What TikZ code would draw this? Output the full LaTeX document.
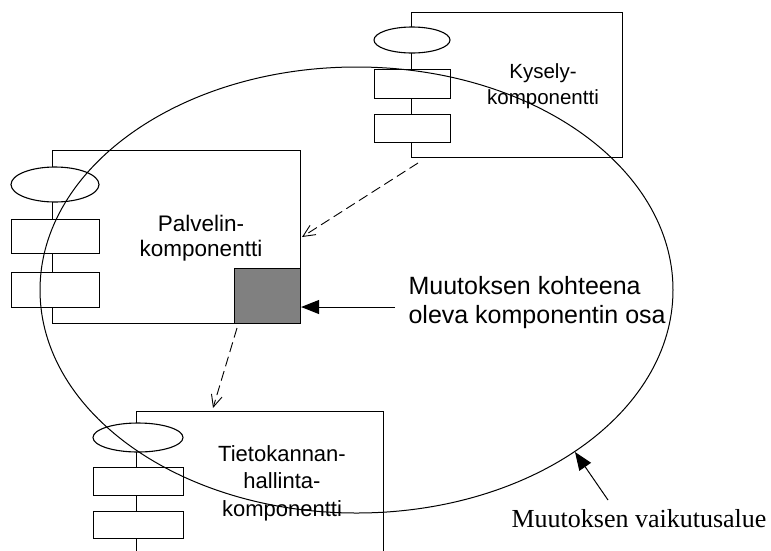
\documentclass[tikz,border=0pt]{standalone}
\usepackage{fontspec}
\setmainfont{Liberation Serif}
\setsansfont{Liberation Sans}
\usetikzlibrary{arrows.meta,shapes.geometric}
\begin{document}
\begin{tikzpicture}[x=1pt,y=-1pt,line width=1.1pt,
  comp/.style={draw=black},
  part/.style={draw=black,fill=white},
  lbl/.style={font=\sffamily\fontsize{21}{26.5}\selectfont,align=center,inner sep=0pt},
  note/.style={font=\sffamily\fontsize{25}{29}\selectfont,align=left,inner sep=0pt,anchor=west},
  depend/.style={draw=black,line width=0.9pt,dash pattern=on 10pt off 5pt,
    -{Straight Barb[length=12pt,width=11pt,line width=0.9pt]}},
  pointer/.style={draw=black,line width=1pt,-{Triangle[length=18pt,width=14pt]}}]
\useasboundingbox (0,0) rectangle (771,550);
\fill[white] (0,0) rectangle (771,550);
\clip (0,0) rectangle (771,550);

% Kysely-komponentti
\node[comp,minimum width=211pt,minimum height=145pt,inner sep=0pt,anchor=north west] (kq) at (411,12) {};
\node[part,ellipse,minimum width=76pt,minimum height=26pt,inner sep=0pt] (kqe) at (412,40) {};
\node[part,minimum width=76pt,minimum height=29pt,inner sep=0pt,anchor=north west] (kqr1) at (374,69) {};
\node[part,minimum width=76pt,minimum height=28pt,inner sep=0pt,anchor=north west] (kqr2) at (374,114) {};
\node[lbl,font=\sffamily\fontsize{20.5}{26}\selectfont] (kqt) at (543,86) {Kysely-\\komponentti};

% Palvelin-komponentti
\node[comp,minimum width=248pt,minimum height=173pt,inner sep=0pt,anchor=north west] (pk) at (52,150) {};
\node[part,ellipse,minimum width=88pt,minimum height=35pt,inner sep=0pt] (pke) at (55,184.5) {};
\node[part,minimum width=88pt,minimum height=34pt,inner sep=0pt,anchor=north west] (pkr1) at (11,219) {};
\node[part,minimum width=88pt,minimum height=35pt,inner sep=0pt,anchor=north west] (pkr2) at (11,272) {};
\node[draw=black,fill=black!50,minimum width=66pt,minimum height=55pt,inner sep=0pt,anchor=north west] (osa) at (234,268) {};
\node[lbl,font=\sffamily\fontsize{22.5}{25.5}\selectfont] (pkt) at (201,238) {Palvelin-\\komponentti};

% Tietokannanhallintakomponentti
\node[comp,minimum width=247pt,minimum height=160pt,inner sep=0pt,anchor=north west] (tk) at (136,411) {};
\node[part,ellipse,minimum width=90pt,minimum height=29pt,inner sep=0pt] (tke) at (138,437.5) {};
\node[part,minimum width=90pt,minimum height=28pt,inner sep=0pt,anchor=north west] (tkr1) at (93,467) {};
\node[part,minimum width=90pt,minimum height=27pt,inner sep=0pt,anchor=north west] (tkr2) at (93,511) {};
\node[lbl,font=\sffamily\fontsize{22}{27.5}\selectfont] (tkt) at (282,483) {Tietokannan-\\hallinta-\\komponentti};

% Muutoksen vaikutusalue
\node[draw=black,ellipse,line width=1pt,minimum width=633pt,minimum height=446pt,inner sep=0pt] (alue) at (356.5,290) {};

% Riippuvuudet
\coordinate (kqlow) at (418,163);
\coordinate (pkin) at (302,237);
\coordinate (osalow) at (237,328);
\coordinate (tkin) at (213,408);
\draw[depend] (kqlow) -- (pkin);
\draw[depend] (osalow) -- (tkin);

% Selitteet
\node[note] (osat) at (408,303) {Muutoksen kohteena\\oleva komponentin osa};
\draw[pointer] (395,307) -- (osa.east |- 0,307);
\node[font=\rmfamily\fontsize{26}{30}\selectfont,inner sep=0pt,anchor=west] (aluet) at (511,519) {Muutoksen vaikutusalue};
\coordinate (alueosoitin) at (608,500);
\draw[pointer] (alueosoitin) -- (575,452);
\end{tikzpicture}
\end{document}
